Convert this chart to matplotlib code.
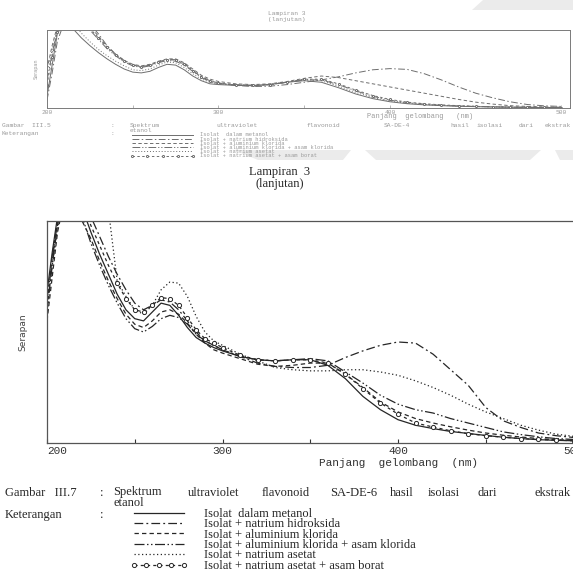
import matplotlib
matplotlib.use("Agg")
import matplotlib.pyplot as plt
from matplotlib.patches import Polygon

W, H = 573, 574

# ---- bottom chart (Gambar III.7, SA-DE-6) ----
wl_b = [200, 203, 206, 210, 215, 220, 225, 230, 235, 240, 245, 250, 255, 260, 265,
        270, 275, 280, 285, 290, 295, 300, 310, 320, 330, 340, 350, 360, 370, 380,
        390, 400, 410, 420, 430, 440, 450, 460, 470, 480, 490, 500, 510]
metanol_b = [0.68, 0.86, 1.02, 1.15, 1.2, 1.06, 0.95, 0.85, 0.76, 0.67, 0.60, 0.56, 0.55, 0.59, 0.63,
             0.62, 0.575, 0.52, 0.475, 0.45, 0.43, 0.415, 0.39, 0.375, 0.37, 0.375, 0.375, 0.35, 0.29, 0.21,
             0.15, 0.105, 0.08, 0.065, 0.052, 0.043, 0.034, 0.026, 0.02, 0.015, 0.012, 0.01, 0.008]
naoh_b = [0.6, 0.8, 0.98, 1.12, 1.2, 1.12, 1.02, 0.93, 0.84, 0.76, 0.69, 0.63, 0.60, 0.62, 0.645,
          0.635, 0.60, 0.55, 0.5, 0.46, 0.44, 0.42, 0.39, 0.36, 0.345, 0.34, 0.34, 0.35, 0.385, 0.415,
          0.44, 0.455, 0.45, 0.40, 0.33, 0.26, 0.16, 0.10, 0.07, 0.045, 0.033, 0.025, 0.02]
alcl3_b = [0.55, 0.75, 0.95, 1.1, 1.15, 1.0, 0.92, 0.82, 0.73, 0.65, 0.58, 0.535, 0.52, 0.55, 0.59,
           0.60, 0.58, 0.54, 0.49, 0.45, 0.42, 0.405, 0.38, 0.355, 0.345, 0.35, 0.36, 0.36, 0.31, 0.25,
           0.185, 0.14, 0.11, 0.09, 0.073, 0.058, 0.045, 0.035, 0.027, 0.02, 0.015, 0.012, 0.01]
alcl3_hcl_b = [0.65, 0.82, 1.0, 1.12, 1.15, 1.02, 0.9, 0.8, 0.71, 0.63, 0.56, 0.515, 0.50, 0.525, 0.56,
               0.575, 0.565, 0.535, 0.49, 0.46, 0.44, 0.42, 0.39, 0.375, 0.37, 0.375, 0.38, 0.37, 0.32, 0.27,
               0.215, 0.175, 0.15, 0.135, 0.11, 0.09, 0.07, 0.05, 0.038, 0.028, 0.02, 0.016, 0.013]
naoac_b = [0.58, 0.8, 0.97, 1.12, 1.25, 1.3, 1.3, 1.25, 1.05, 0.73, 0.66, 0.60, 0.58, 0.62, 0.69,
           0.725, 0.72, 0.66, 0.57, 0.5, 0.46, 0.44, 0.40, 0.37, 0.34, 0.33, 0.325, 0.325, 0.33, 0.33,
           0.32, 0.305, 0.28, 0.25, 0.215, 0.175, 0.14, 0.11, 0.08, 0.058, 0.04, 0.03, 0.025]
naoac_borat_b = [0.62, 0.84, 1.0, 1.13, 1.18, 1.08, 0.98, 0.89, 0.80, 0.72, 0.65, 0.60, 0.59, 0.62, 0.655,
                 0.65, 0.62, 0.565, 0.51, 0.47, 0.45, 0.43, 0.395, 0.375, 0.37, 0.375, 0.375, 0.36, 0.31, 0.245,
                 0.18, 0.13, 0.09, 0.072, 0.055, 0.042, 0.033, 0.026, 0.02, 0.016, 0.013, 0.01, 0.008]

# ---- top chart (Gambar III.5, SA-DE-4) ----
wl_t = [200, 203, 206, 210, 215, 220, 225, 230, 235, 240, 245, 250, 255, 260, 265,
        270, 275, 280, 285, 290, 295, 300, 310, 320, 330, 340, 350, 360, 370, 380,
        390, 400, 410, 420, 430, 440, 450, 460, 470, 480, 490, 500]
metanol_t = [0.15, 0.55, 0.95, 1.1, 1.02, 0.9, 0.8, 0.71, 0.63, 0.56, 0.5, 0.46, 0.45, 0.47, 0.52,
             0.56, 0.55, 0.49, 0.41, 0.35, 0.31, 0.3, 0.29, 0.285, 0.3, 0.33, 0.35, 0.33, 0.26, 0.18,
             0.12, 0.08, 0.055, 0.04, 0.03, 0.022, 0.017, 0.013, 0.01, 0.008, 0.006, 0.005]
naoh_t = [0.1, 0.45, 0.85, 1.1, 1.2, 1.15, 1.08, 0.95, 0.8, 0.69, 0.61, 0.55, 0.53, 0.55, 0.59,
          0.62, 0.62, 0.57, 0.48, 0.4, 0.35, 0.32, 0.29, 0.275, 0.28, 0.3, 0.33, 0.36, 0.40, 0.45,
          0.49, 0.505, 0.495, 0.44, 0.36, 0.27, 0.19, 0.13, 0.08, 0.045, 0.028, 0.02]
alcl3_t = [0.5, 0.8, 1.05, 1.15, 1.2, 1.15, 1.05, 0.92, 0.79, 0.69, 0.61, 0.56, 0.54, 0.56, 0.6,
           0.63, 0.63, 0.58, 0.5, 0.42, 0.37, 0.34, 0.31, 0.3, 0.31, 0.34, 0.38, 0.41, 0.39, 0.35,
           0.31, 0.27, 0.23, 0.19, 0.15, 0.11, 0.075, 0.05, 0.03, 0.02, 0.014, 0.01]
alcl3_hcl_t = [0.35, 0.7, 1.0, 1.12, 1.15, 1.1, 1.0, 0.88, 0.76, 0.67, 0.59, 0.54, 0.52, 0.54, 0.58,
               0.61, 0.6, 0.55, 0.47, 0.39, 0.34, 0.31, 0.295, 0.29, 0.3, 0.33, 0.36, 0.36, 0.3, 0.22,
               0.15, 0.1, 0.07, 0.05, 0.035, 0.026, 0.02, 0.015, 0.011, 0.009, 0.007, 0.006]
naoac_t = [0.45, 0.75, 1.0, 1.12, 1.1, 0.96, 0.85, 0.75, 0.67, 0.6, 0.54, 0.49, 0.48, 0.5, 0.55,
           0.59, 0.58, 0.52, 0.44, 0.37, 0.33, 0.31, 0.295, 0.29, 0.305, 0.335, 0.365, 0.35, 0.28, 0.2,
           0.135, 0.09, 0.062, 0.045, 0.033, 0.025, 0.019, 0.014, 0.011, 0.008, 0.006, 0.005]
naoac_borat_t = [0.3, 0.65, 0.98, 1.12, 1.18, 1.12, 1.02, 0.9, 0.78, 0.68, 0.6, 0.55, 0.53, 0.55, 0.59,
                 0.62, 0.615, 0.56, 0.48, 0.4, 0.35, 0.32, 0.3, 0.29, 0.3, 0.33, 0.37, 0.37, 0.31, 0.23,
                 0.16, 0.11, 0.075, 0.055, 0.04, 0.03, 0.022, 0.016, 0.012, 0.009, 0.007, 0.006]

labels = ["Isolat  dalam metanol",
          "Isolat + natrium hidroksida",
          "Isolat + aluminium klorida",
          "Isolat + aluminium klorida + asam klorida",
          "Isolat + natrium asetat",
          "Isolat + natrium asetat + asam borat"]
x_ticks = [200, 250, 300, 350, 400, 450, 500]
x_ticklabels = ["200", "", "300", "", "400", "", "500"]

styles = [dict(ls="-"),
          dict(ls=(0, (7, 2.5, 1.5, 2.5))),
          dict(ls=(0, (3.5, 2.5))),
          dict(ls=(0, (8, 2, 1.2, 2, 1.2, 2))),
          dict(ls=(0, (1, 2))),
          dict(ls=(0, (2.5, 2.5)), marker="o", ms=3, mfc="white", mew=0.7)]


def fx(px):
    return px / W


def fy(py):
    return 1 - py / H


fig = plt.figure(figsize=(W / 100, H / 100), dpi=100)
fig.patch.set_facecolor("white")

# faint watermark bands of the scan
for pts in [[(483, 0), (573, 0), (573, 10), (472, 10)],
            [(234, 150), (351, 150), (343, 160), (258, 160)],
            [(365, 150), (541, 150), (530, 160), (376, 160)],
            [(555, 150), (573, 150), (573, 160), (560, 160)]]:
    fig.patches.append(Polygon([(fx(a), fy(b)) for a, b in pts], closed=True,
                               transform=fig.transFigure, fc="#ebebeb", ec="none", zorder=0))

ink = "#262626"
faint = "#9a9a9a"
serif = "Liberation Serif"
mono = "Liberation Mono"

# ---------- top chart ----------
axt = fig.add_axes([fx(47), fy(108), 523 / W, 78 / H])
series_t = [metanol_t, naoh_t, alcl3_t, alcl3_hcl_t, naoac_t, naoac_borat_t]
lines_t = []
for vals, st in zip(series_t, styles):
    kw = dict(st)
    if "marker" in kw:
        kw["ms"] = 1.5
    ln, = axt.plot(wl_t, vals, color="#6e6e6e", lw=0.7, **kw)
    lines_t.append(ln)
axt.set_xlim(200, 505)
axt.set_ylim(0, 1)
axt.set_yticks([])
axt.set_xticks(x_ticks)
axt.set_xticklabels(x_ticklabels)
axt.tick_params(axis="x", direction="in", length=2, width=0.5, pad=1.5,
                labelsize=4.5, colors=faint, labelfontfamily=mono)
for sp in axt.spines.values():
    sp.set_color("#7a7a7a")
    sp.set_linewidth(0.7)
axt.set_ylabel("Serapan", fontsize=3.5, color=faint, labelpad=6)

fig.text(fx(287), fy(13), "Lampiran 3", ha="center", va="center",
         fontsize=4.5, color=faint, family=mono)
fig.text(fx(287), fy(19), "(lanjutan)", ha="center", va="center",
         fontsize=4.5, color=faint, family=mono)
fig.text(fx(420), fy(117), "Panjang  gelombang   (nm)", ha="center", va="center",
         fontsize=5, color=faint, family=mono)

cap_t = [(2, "Gambar  III.5"), (110, ":"), (130, "Spektrum"), (216, "ultraviolet"),
         (307, "flavonoid"), (384, "SA-DE-4"), (450, "hasil"), (477, "isolasi"),
         (519, "dari"), (545, "ekstrak")]
for x, s in cap_t:
    fig.text(fx(x), fy(127), s, ha="left", va="baseline", fontsize=4.5, color=faint, family=mono)
fig.text(fx(130), fy(132.5), "etanol", ha="left", va="baseline", fontsize=4.5, color=faint, family=mono)
fig.text(fx(2), fy(135), "Keterangan", ha="left", va="baseline", fontsize=4.5, color=faint, family=mono)
fig.text(fx(110), fy(135), ":", ha="left", va="baseline", fontsize=4.5, color=faint, family=mono)
fig.legend(handles=lines_t, labels=labels, loc="upper left",
           bbox_to_anchor=(fx(130), fy(132.5)), frameon=False,
           prop={"family": mono, "size": 3.9}, labelcolor=faint,
           handlelength=12, handletextpad=1.0, labelspacing=-0.15,
           borderpad=0, borderaxespad=0, numpoints=5)

# ---------- bottom chart ----------
ax = fig.add_axes([fx(47), fy(443), 310 * 1.755 / W, 222 / H])
series_b = [metanol_b, naoh_b, alcl3_b, alcl3_hcl_b, naoac_b, naoac_borat_b]
lines_b = []
for vals, st in zip(series_b, styles):
    kw = dict(st)
    if "marker" in kw:
        kw["markevery"] = slice(9, None)
    ln, = ax.plot(wl_b, vals, color=ink, lw=0.9, **kw)
    lines_b.append(ln)
ax.set_xlim(200, 510)
ax.set_ylim(0, 1)
ax.set_yticks([])
ax.set_xticks(x_ticks)
ax.set_xticklabels(x_ticklabels)
ax.get_xticklabels()[0].set_ha("left")
ax.tick_params(axis="x", direction="in", length=3, width=0.8, pad=2,
               labelsize=8, colors="#333333", labelfontfamily=mono)
for sp in ax.spines.values():
    sp.set_color("#555555")
    sp.set_linewidth(0.9)
ax.set_ylabel("Serapan", fontsize=6.5, color="#444444", labelpad=14)
ax.text(400, -0.09, "Panjang  gelombang  (nm)", ha="center", va="center",
        fontsize=8, color="#333333", family=mono, clip_on=False)

fig.text(fx(280), fy(172), "Lampiran  3", ha="center", va="center",
         fontsize=9, color=ink, family=serif)
fig.text(fx(280), fy(184), "(lanjutan)", ha="center", va="center",
         fontsize=9, color=ink, family=serif)

cap_fs = 9
cap_b = [(5, "Gambar   III.7"), (100, ":"), (113, "Spektrum"), (188, "ultraviolet"),
         (262, "flavonoid"), (330, "SA-DE-6"), (390, "hasil"), (428, "isolasi"), (478, "dari")]
for x, s in cap_b:
    fig.text(fx(x), fy(495.5), s, ha="left", va="baseline", fontsize=cap_fs, color=ink, family=serif)
fig.text(fx(571), fy(495.5), "ekstrak", ha="right", va="baseline",
         fontsize=cap_fs, color=ink, family=serif)
fig.text(fx(113), fy(506), "etanol", ha="left", va="baseline", fontsize=cap_fs, color=ink, family=serif)
fig.text(fx(5), fy(518), "Keterangan", ha="left", va="baseline", fontsize=cap_fs, color=ink, family=serif)
fig.text(fx(100), fy(518), ":", ha="left", va="baseline", fontsize=cap_fs, color=ink, family=serif)
fig.legend(handles=lines_b, labels=labels, loc="upper left",
           bbox_to_anchor=(fx(130), fy(508)), frameon=False,
           prop={"family": serif, "size": cap_fs}, labelcolor=ink,
           handlelength=4.6, handletextpad=1.3, labelspacing=-0.13,
           borderpad=0, borderaxespad=0, numpoints=5)

fig.savefig("out.png", dpi=100)
